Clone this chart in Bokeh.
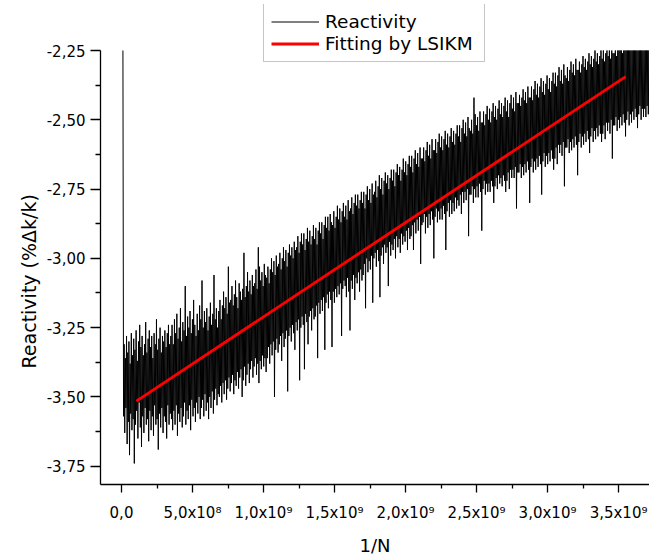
import numpy as np
from bokeh.plotting import figure
from bokeh.models import Range1d, FixedTicker, Legend, LegendItem, Title
from bokeh.embed import file_html
from bokeh.resources import INLINE

# ---------------- data ----------------
reactivity = [
    -2.25, -3.57, -3.31, -3.63, -3.36, -3.54, -3.28, -3.67, -3.34, -3.59,
    -3.30, -3.71, -3.38, -3.56, -3.27, -3.62, -3.35, -3.58, -3.29, -3.74,
    -3.33, -3.60, -3.26, -3.55, -3.37, -3.65, -3.30, -3.52, -3.24, -3.61,
    -3.32, -3.68, -3.28, -3.57, -3.35, -3.63, -3.31, -3.54, -3.23, -3.60,
    -3.34, -3.58, -3.29, -3.66, -3.26, -3.55, -3.32, -3.62, -3.28, -3.57,
    -3.36, -3.64, -3.27, -3.53, -3.31, -3.60, -3.22, -3.58, -3.33, -3.69,
    -3.29, -3.56, -3.25, -3.61, -3.34, -3.54, -3.28, -3.63, -3.30, -3.57,
    -3.26, -3.59, -3.32, -3.65, -3.27, -3.53, -3.24, -3.60, -3.31, -3.56,
    -3.28, -3.58, -3.24, -3.62, -3.31, -3.55, -3.22, -3.60, -3.27, -3.53,
    -3.20, -3.64, -3.29, -3.56, -3.25, -3.59, -3.18, -3.54, -3.30, -3.61,
    -3.23, -3.57, -3.26, -3.52, -3.10, -3.60, -3.28, -3.55, -3.21, -3.58,
    -3.25, -3.53, -3.19, -3.62, -3.27, -3.51, -3.22, -3.57, -3.15, -3.54,
    -3.24, -3.59, -3.28, -3.52, -3.20, -3.56, -3.26, -3.50, -3.17, -3.58,
    -3.22, -3.54, -3.08, -3.51, -3.25, -3.57, -3.19, -3.49, -3.23, -3.55,
    -3.18, -3.52, -3.26, -3.58, -3.21, -3.50, -3.16, -3.54, -3.24, -3.48,
    -3.20, -3.56, -3.06, -3.51, -3.22, -3.47, -3.18, -3.53, -3.25, -3.49,
    -3.19, -3.50, -3.15, -3.46, -3.22, -3.52, -3.17, -3.45, -3.12, -3.49,
    -3.18, -3.44, -3.14, -3.51, -3.20, -3.47, -3.03, -3.43, -3.16, -3.48,
    -3.15, -3.45, -3.10, -3.42, -3.17, -3.49, -3.13, -3.44, -3.08, -3.46,
    -3.14, -3.41, -3.18, -3.47, -3.09, -3.43, -3.12, -3.40, -3.15, -3.50,
    -3.11, -3.44, -2.98, -3.39, -3.14, -3.46, -3.10, -3.42, -3.05, -3.38,
    -3.12, -3.45, -3.08, -3.40, -3.13, -3.37, -3.06, -3.43, -3.10, -3.39,
    -3.09, -3.36, -3.04, -3.42, -3.11, -3.38, -2.96, -3.45, -3.03, -3.37,
    -3.08, -3.40, -3.05, -3.35, -3.10, -3.39, -3.02, -3.36, -3.06, -3.41,
    -3.07, -3.36, -3.03, -3.32, -3.09, -3.38, -3.04, -3.31, -3.00, -3.35,
    -3.05, -3.30, -3.01, -3.50, -3.06, -3.33, -2.99, -3.29, -3.03, -3.34,
    -3.02, -3.31, -2.98, -3.28, -3.04, -3.37, -3.00, -3.27, -2.96, -3.32,
    -3.01, -3.29, -2.97, -3.26, -3.03, -3.48, -2.98, -3.28, -2.95, -3.25,
    -2.99, -3.30, -2.96, -3.24, -3.00, -3.27, -2.94, -3.33, -2.97, -3.23,
    -2.96, -3.26, -2.92, -3.22, -2.98, -3.44, -2.94, -3.25, -2.91, -3.21,
    -2.95, -3.24, -2.91, -3.40, -2.97, -3.20, -2.93, -3.23, -2.89, -3.31,
    -2.94, -3.21, -2.90, -3.19, -2.95, -3.26, -2.92, -3.18, -2.88, -3.22,
    -2.93, -3.21, -2.89, -3.17, -2.95, -3.36, -2.90, -3.16, -2.87, -3.20,
    -2.91, -3.15, -2.87, -3.19, -2.93, -3.14, -2.88, -3.33, -2.85, -3.16,
    -2.89, -3.13, -2.85, -3.18, -2.90, -3.12, -2.84, -3.15, -2.87, -3.32,
    -2.88, -3.12, -2.83, -3.16, -2.89, -3.11, -2.85, -3.14, -2.81, -3.10,
    -2.86, -3.13, -2.82, -3.09, -2.87, -3.28, -2.83, -3.11, -2.80, -3.08,
    -2.85, -3.10, -2.81, -3.14, -2.86, -3.07, -2.79, -3.12, -2.83, -3.26,
    -2.82, -3.08, -2.78, -3.11, -2.84, -3.06, -2.80, -3.15, -2.77, -3.07,
    -2.81, -3.09, -2.77, -3.05, -2.82, -3.12, -2.79, -3.04, -2.76, -3.08,
    -2.80, -3.06, -2.76, -3.02, -2.82, -3.18, -2.77, -3.00, -2.74, -3.05,
    -2.79, -3.01, -2.75, -3.04, -2.80, -2.99, -2.73, -3.16, -2.77, -3.00,
    -2.76, -2.98, -2.72, -3.03, -2.78, -2.97, -2.74, -3.01, -2.70, -3.14,
    -2.75, -2.99, -2.71, -2.96, -2.77, -3.02, -2.72, -2.95, -2.69, -2.98,
    -2.73, -2.96, -2.70, -3.10, -2.75, -2.94, -2.71, -2.99, -2.68, -2.95,
    -2.72, -2.97, -2.68, -2.93, -2.74, -3.00, -2.69, -2.92, -2.66, -2.96,
    -2.70, -2.93, -2.67, -2.98, -2.72, -2.91, -2.68, -2.95, -2.64, -2.92,
    -2.69, -2.94, -2.65, -2.90, -2.70, -2.97, -2.66, -2.89, -2.63, -2.93,
    -2.67, -2.92, -2.63, -2.88, -2.69, -2.97, -2.64, -2.87, -2.61, -2.91,
    -2.66, -2.86, -2.62, -2.90, -2.67, -2.85, -2.60, -3.02, -2.64, -2.88,
    -2.64, -2.87, -2.60, -2.84, -2.65, -2.91, -2.61, -2.85, -2.58, -2.89,
    -2.63, -2.84, -2.59, -2.88, -2.64, -2.83, -2.57, -2.86, -2.61, -3.00,
    -2.61, -2.85, -2.57, -2.82, -2.62, -2.87, -2.58, -2.83, -2.55, -2.86,
    -2.60, -2.82, -2.56, -2.86, -2.61, -2.81, -2.57, -2.84, -2.54, -2.97,
    -2.59, -2.83, -2.55, -2.80, -2.60, -2.85, -2.56, -2.79, -2.53, -2.84,
    -2.58, -2.80, -2.54, -2.83, -2.59, -2.78, -2.55, -2.82, -2.52, -2.79,
    -2.56, -2.81, -2.52, -2.77, -2.58, -2.84, -2.53, -2.76, -2.50, -2.80,
    -2.55, -2.76, -2.51, -2.79, -2.56, -2.75, -2.49, -2.92, -2.53, -2.77,
    -2.54, -2.77, -2.50, -2.74, -2.55, -2.80, -2.42, -2.75, -2.48, -2.78,
    -2.52, -2.74, -2.49, -2.78, -2.54, -2.73, -2.47, -2.76, -2.51, -2.90,
    -2.51, -2.75, -2.47, -2.72, -2.52, -2.77, -2.48, -2.73, -2.45, -2.76,
    -2.50, -2.73, -2.46, -2.76, -2.51, -2.72, -2.47, -2.74, -2.44, -2.80,
    -2.49, -2.74, -2.45, -2.71, -2.50, -2.75, -2.46, -2.70, -2.43, -2.73,
    -2.48, -2.71, -2.44, -2.74, -2.49, -2.70, -2.45, -2.72, -2.42, -2.76,
    -2.47, -2.72, -2.43, -2.69, -2.49, -2.75, -2.44, -2.68, -2.41, -2.71,
    -2.46, -2.68, -2.42, -2.71, -2.47, -2.67, -2.40, -2.82, -2.44, -2.69,
    -2.44, -2.69, -2.41, -2.66, -2.45, -2.71, -2.42, -2.67, -2.39, -2.70,
    -2.43, -2.66, -2.40, -2.69, -2.44, -2.65, -2.38, -2.68, -2.42, -2.80,
    -2.42, -2.67, -2.38, -2.64, -2.43, -2.69, -2.39, -2.65, -2.36, -2.68,
    -2.41, -2.64, -2.37, -2.67, -2.42, -2.63, -2.38, -2.66, -2.35, -2.77,
    -2.40, -2.65, -2.36, -2.62, -2.41, -2.67, -2.37, -2.63, -2.34, -2.66,
    -2.39, -2.62, -2.35, -2.65, -2.40, -2.61, -2.36, -2.64, -2.33, -2.68,
    -2.37, -2.64, -2.33, -2.60, -2.38, -2.66, -2.34, -2.59, -2.31, -2.62,
    -2.36, -2.59, -2.32, -2.63, -2.37, -2.58, -2.30, -2.74, -2.34, -2.60,
    -2.35, -2.60, -2.31, -2.57, -2.36, -2.62, -2.32, -2.58, -2.29, -2.61,
    -2.33, -2.57, -2.30, -2.60, -2.34, -2.56, -2.28, -2.59, -2.32, -2.70,
    -2.32, -2.58, -2.29, -2.55, -2.33, -2.60, -2.30, -2.56, -2.27, -2.59,
    -2.31, -2.55, -2.28, -2.58, -2.32, -2.54, -2.29, -2.57, -2.26, -2.62,
    -2.30, -2.56, -2.27, -2.53, -2.31, -2.58, -2.28, -2.54, -2.25, -2.57,
    -2.29, -2.53, -2.26, -2.56, -2.30, -2.52, -2.27, -2.55, -2.25, -2.58,
    -2.28, -2.55, -2.25, -2.52, -2.29, -2.57, -2.26, -2.51, -2.25, -2.54,
    -2.27, -2.51, -2.25, -2.55, -2.28, -2.50, -2.25, -2.64, -2.26, -2.52,
    -2.26, -2.52, -2.25, -2.49, -2.27, -2.54, -2.25, -2.50, -2.25, -2.53,
    -2.25, -2.49, -2.25, -2.52, -2.26, -2.48, -2.25, -2.51, -2.25, -2.56,
    -2.25, -2.50, -2.25, -2.47, -2.25, -2.52, -2.25, -2.48, -2.25, -2.51,
    -2.25, -2.47, -2.25, -2.50, -2.25, -2.46, -2.25, -2.49, -2.25, -2.53,
    -2.25, -2.48, -2.25, -2.45, -2.25, -2.50, -2.25, -2.46, -2.25, -2.49,
    -2.25, -2.46, -2.25, -2.49, -2.25, -2.45, -2.25, -2.48, -2.25, -2.51,
]
x_first = 1.0e7          # 1/N of the first sample
x_last = 3.718e9         # 1/N of the last visible sample

fit_x = [1.05e8, 3.55e9]
fit_y = [-3.515, -2.344]

x_ticks = [0.0, 5e8, 1e9, 1.5e9, 2e9, 2.5e9, 3e9, 3.5e9]
x_tick_labels = ["0,0", "5,0x10\u2078", "1,0x10\u2079", "1,5x10\u2079",
                 "2,0x10\u2079", "2,5x10\u2079", "3,0x10\u2079", "3,5x10\u2079"]
x_minor = [2.5e8, 7.5e8, 1.25e9, 1.75e9, 2.25e9, 2.75e9, 3.25e9]

y_ticks = [-3.75, -3.5, -3.25, -3.0, -2.75, -2.5, -2.25]
y_tick_labels = ["-3,75", "-3,50", "-3,25", "-3,00", "-2,75", "-2,50", "-2,25"]
y_minor = [-3.625, -3.375, -3.125, -2.875, -2.625, -2.375]

x_limits = (-1.48e8, 3.718e9)
y_axis_span = (-3.816, -2.25)     # drawn extent of the y axis
y_limits = (-3.816, -2.084)       # plotting area incl. the room for the legend

y_title = "Reactivity (%\u0394k/k)"
x_title = "1/N"

# ---------------- figure ----------------
xs = np.linspace(x_first, x_last, len(reactivity))

p = figure(width=649, height=558,
           x_range=Range1d(*x_limits), y_range=Range1d(*y_limits),
           output_backend="svg", toolbar_location=None,
           min_border_left=100, min_border_top=4,
           min_border_bottom=67, min_border_right=0)
p.background_fill_color = "white"
p.border_fill_color = "white"
p.outline_line_color = None
p.xgrid.grid_line_color = None
p.ygrid.grid_line_color = None

r1 = p.line(xs, reactivity, line_color="black", line_width=1.0)
r2 = p.line(fit_x, fit_y, line_color="#ff0000", line_width=2.8)

p.xaxis.ticker = FixedTicker(ticks=x_ticks, minor_ticks=x_minor)
p.yaxis.ticker = FixedTicker(ticks=y_ticks, minor_ticks=y_minor)
p.xaxis.major_label_overrides = dict(zip(x_ticks, x_tick_labels))
p.yaxis.major_label_overrides = dict(zip(y_ticks, y_tick_labels))
p.yaxis.bounds = y_axis_span

p.xaxis.axis_label = x_title

for ax in (p.xaxis[0], p.yaxis[0]):
    ax.axis_line_color = "black"
    ax.axis_line_width = 1.3
    ax.major_tick_line_color = "black"
    ax.minor_tick_line_color = "black"
    ax.major_tick_line_width = 1.3
    ax.minor_tick_line_width = 1.3
    ax.major_tick_in = 0
    ax.minor_tick_in = 0
    ax.major_label_text_font = "DejaVu Sans"
    ax.major_label_text_font_size = "15px"
    ax.major_label_text_color = "black"
    ax.axis_label_text_font = "DejaVu Sans"
    ax.axis_label_text_font_size = "18px"
    ax.axis_label_text_font_style = "normal"
    ax.axis_label_text_color = "black"

p.xaxis.major_tick_out = 8
p.xaxis.minor_tick_out = 4
p.yaxis.major_tick_out = 10
p.yaxis.minor_tick_out = 5
p.xaxis.major_label_standoff = 11
p.yaxis.major_label_standoff = 5
p.xaxis.axis_label_standoff = 10

# y axis title, placed along the drawn part of the axis
ytitle = Title(text=y_title, align="left", offset=116,
               text_font="DejaVu Sans", text_font_size="19px",
               text_font_style="normal", text_color="black", standoff=8)
p.add_layout(ytitle, "left")

legend = Legend(items=[LegendItem(label="Reactivity", renderers=[r1]),
                       LegendItem(label="Fitting by LSIKM", renderers=[r2])],
                location=(163, 422))
legend.margin = 0
legend.padding = 7
legend.spacing = 1
legend.glyph_width = 48
legend.glyph_height = 19
legend.label_standoff = 6
legend.label_width = 152
legend.label_text_font = "DejaVu Sans"
legend.label_text_font_size = "18.5px"
legend.label_text_color = "black"
legend.border_line_color = "#8c8c8c"
legend.border_line_width = 1
legend.background_fill_color = "white"
legend.background_fill_alpha = 1.0
p.add_layout(legend)

open("out.html", "w").write(file_html(p, INLINE))
